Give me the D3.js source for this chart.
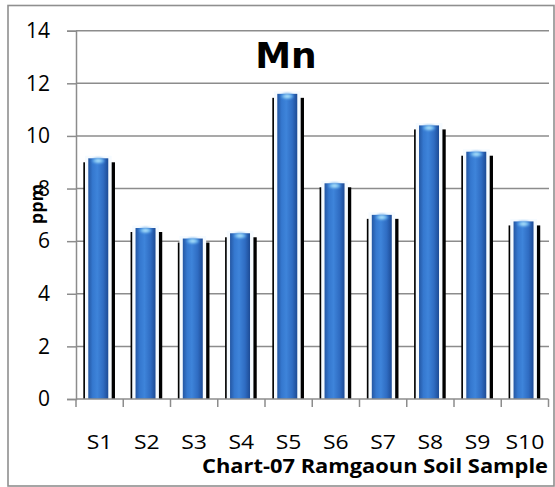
<!DOCTYPE html>
<html>
<head>
<meta charset="utf-8">
<script src="https://cdn.jsdelivr.net/npm/d3@7/dist/d3.min.js"></script>
<style>
  html, body { margin: 0; padding: 0; background: #fff; }
  svg { display: block; }
</style>
</head>
<body>
<div id="chart"></div>
<script>
// Manganese content per soil sample (ppm)
const samples = ["S1", "S2", "S3", "S4", "S5", "S6", "S7", "S8", "S9", "S10"];
const mnValues = [9.15, 6.5, 6.1, 6.3, 11.6, 8.2, 7.0, 10.4, 9.4, 6.75];
const yTicks = [0, 2, 4, 6, 8, 10, 12, 14];

const chartTitle = "Mn";
const yLabel = "ppm";
const xLabel = "Chart-07 Ramgaoun Soil Sample";

const W = 555, H = 487;
const plot = { left: 76, right: 548.5, top: 30.7, bottom: 399 };
const labelFont = "'Open Sans', Lato, sans-serif";

// widen glyphs a little, keeping the anchor point
function widen(sel, k) {
  sel.each(function () {
    const L = this.getComputedTextLength();
    this.setAttribute("textLength", (L * k).toFixed(1));
    this.setAttribute("lengthAdjust", "spacingAndGlyphs");
  });
}

const svg = d3.select("#chart").append("svg")
  .attr("width", W).attr("height", H);

const defs = svg.append("defs");
const body = defs.append("linearGradient").attr("id", "cyl")
  .attr("x1", "0%").attr("x2", "100%").attr("y1", "0%").attr("y2", "0%");
[["0%", "#2457a3"], ["22%", "#3578cf"], ["45%", "#3e84da"], ["75%", "#2f6cc2"], ["100%", "#1d4b95"]]
  .forEach(([o, c]) => body.append("stop").attr("offset", o).attr("stop-color", c));

const cap = defs.append("radialGradient").attr("id", "capGlow");
[["0%", "#c8f0ff"], ["55%", "#7cc4f2"], ["100%", "#3e84da"]]
  .forEach(([o, c]) => cap.append("stop").attr("offset", o).attr("stop-color", c));

defs.append("filter").attr("id", "soft")
  .attr("x", "-30%").attr("y", "-30%").attr("width", "160%").attr("height", "160%")
  .append("feGaussianBlur").attr("stdDeviation", 0.8);

// outer frame
svg.append("rect")
  .attr("x", 8).attr("y", 5.5).attr("width", 546).attr("height", 480.5)
  .attr("fill", "none").attr("stroke", "#8f8f8f").attr("stroke-width", 1.6);

const x = d3.scaleBand().domain(samples).range([plot.left, plot.right]).paddingInner(0).paddingOuter(0);
const y = d3.scaleLinear().domain([0, 14]).range([plot.bottom, plot.top]);

// horizontal gridlines
svg.append("g").selectAll("line").data(yTicks.filter(d => d > 0)).join("line")
  .attr("x1", plot.left).attr("x2", 549)
  .attr("y1", d => y(d)).attr("y2", d => y(d))
  .attr("stroke", "#8c8c8c").attr("stroke-width", 1.5);

// y axis
const yAxis = svg.append("g")
  .attr("transform", `translate(${plot.left},0)`)
  .call(d3.axisLeft(y).tickValues(yTicks).tickSize(9).tickPadding(17).tickFormat(d3.format("d")));
yAxis.select(".domain").attr("stroke", "#8c8c8c").attr("stroke-width", 1.5);
yAxis.selectAll(".tick line").attr("stroke", "#8c8c8c").attr("stroke-width", 1.5);
yAxis.selectAll(".tick text")
  .attr("font-family", labelFont).attr("font-size", 21).attr("fill", "#000");

// bars
const bw = x.bandwidth();
const bars = svg.append("g").selectAll("g").data(samples.map((s, i) => ({ s, v: mnValues[i] }))).join("g");

bars.append("rect")
  .attr("x", d => x(d.s) + bw * 0.155)
  .attr("y", d => y(d.v) + 4)
  .attr("width", bw * 0.67)
  .attr("height", d => plot.bottom - y(d.v) - 4)
  .attr("fill", "#000");

bars.append("rect")
  .attr("x", d => x(d.s) + bw * 0.19)
  .attr("y", d => y(d.v) - 2.5)
  .attr("width", bw * 0.565)
  .attr("height", d => plot.bottom - y(d.v) + 2.5)
  .attr("fill", "#f6fbff");

bars.append("rect")
  .attr("x", d => x(d.s) + bw * 0.26)
  .attr("y", d => y(d.v))
  .attr("width", bw * 0.423)
  .attr("height", d => plot.bottom - y(d.v))
  .attr("fill", "url(#cyl)");

bars.append("ellipse")
  .attr("cx", d => x(d.s) + bw * 0.26 + bw * 0.423 / 2)
  .attr("cy", d => y(d.v) + 2.5)
  .attr("rx", 6.5).attr("ry", 3)
  .attr("fill", "url(#capGlow)")
  .attr("filter", "url(#soft)");

// x axis
const xAxis = svg.append("g")
  .attr("transform", `translate(0,${plot.bottom})`);
xAxis.append("line")
  .attr("x1", plot.left).attr("x2", plot.right)
  .attr("stroke", "#8c8c8c").attr("stroke-width", 1.5);
const bounds = samples.map(s => x(s)).concat([plot.right]);
xAxis.selectAll("line.tk").data(bounds).join("line").attr("class", "tk")
  .attr("x1", d => d).attr("x2", d => d).attr("y1", 0).attr("y2", 8)
  .attr("stroke", "#8c8c8c").attr("stroke-width", 1.5);
xAxis.selectAll("text").data(samples).join("text")
  .attr("x", d => x(d) + bw / 2).attr("y", 50)
  .attr("text-anchor", "middle")
  .attr("font-family", labelFont).attr("font-size", 20.5)
  .text(d => d)
  .call(widen, 1.12);

// titles
svg.append("text")
  .attr("x", 286).attr("y", 67.5)
  .attr("text-anchor", "middle")
  .attr("font-family", "'DejaVu Sans', sans-serif").attr("font-weight", "bold").attr("font-size", 36)
  .text(chartTitle);

svg.append("text")
  .attr("transform", "translate(42.5,204) rotate(-90)")
  .attr("text-anchor", "middle")
  .attr("font-family", labelFont).attr("font-weight", "bold").attr("font-size", 18)
  .text(yLabel);

svg.append("text")
  .attr("x", 548).attr("y", 473)
  .attr("text-anchor", "end")
  .attr("font-family", labelFont).attr("font-weight", "bold").attr("font-size", 19)
  .attr("textLength", 346).attr("lengthAdjust", "spacingAndGlyphs")
  .text(xLabel);
</script>
</body>
</html>
